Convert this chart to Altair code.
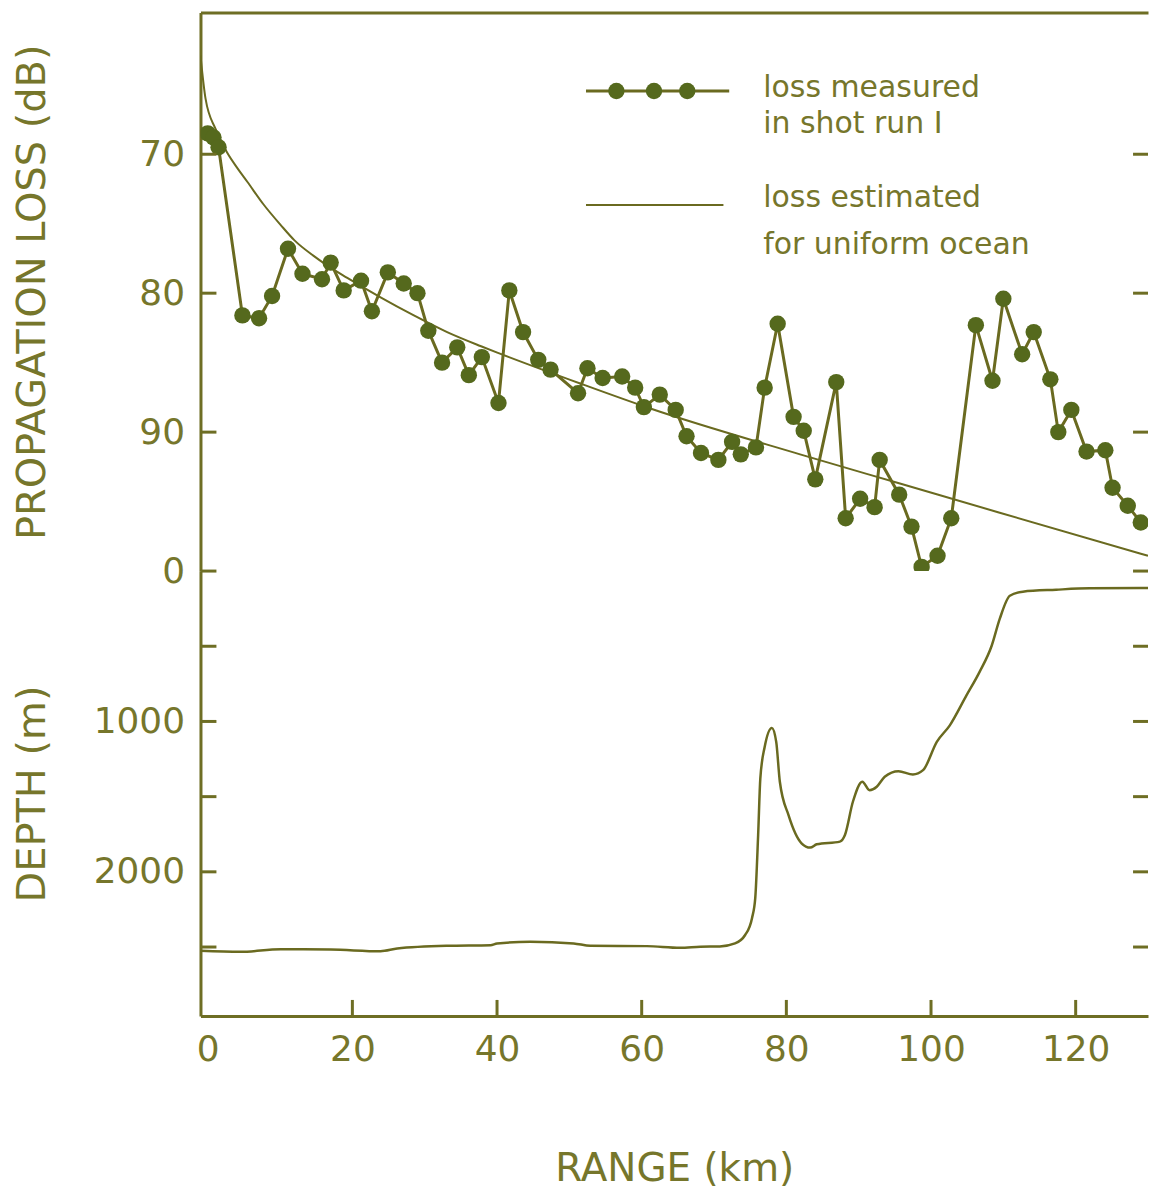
import altair as alt
import pandas as pd

# ---------------- data ----------------
# measured propagation loss, shot run I
meas_range = [0.0, 0.8, 1.5, 4.8, 7.1, 8.9, 11.1, 13.1, 15.8, 17.0, 18.8, 21.2, 22.7,
              24.9, 27.1, 29.0, 30.5, 32.4, 34.5, 36.1, 37.9, 40.2, 41.7, 43.6, 45.7,
              47.4, 51.2, 52.5, 54.6, 57.3, 59.1, 60.3, 62.5, 64.7, 66.2, 68.2, 70.6,
              72.5, 73.7, 75.8, 77.0, 78.8, 81.0, 82.4, 84.0, 86.9, 88.2, 90.2, 92.2,
              92.9, 95.6, 97.3, 98.7, 100.9, 102.8, 106.2, 108.5, 110.0, 112.6, 114.2,
              116.5, 117.6, 119.4, 121.5, 124.1, 125.1, 127.2, 129.0]
meas_loss = [68.5, 68.8, 69.5, 81.6, 81.8, 80.2, 76.8, 78.6, 79.0, 77.8, 79.8, 79.1, 81.3,
             78.5, 79.3, 80.0, 82.7, 85.0, 83.9, 85.9, 84.6, 87.9, 79.8, 82.8, 84.8,
             85.5, 87.2, 85.4, 86.1, 86.0, 86.8, 88.2, 87.3, 88.4, 90.3, 91.5, 92.0,
             90.7, 91.6, 91.1, 86.8, 82.2, 88.9, 89.9, 93.4, 86.4, 96.2, 94.8, 95.4,
             92.0, 94.5, 96.8, 99.7, 98.9, 96.2, 82.3, 86.3, 80.4, 84.4, 82.8,
             86.2, 90.0, 88.4, 91.4, 91.3, 94.0, 95.3, 96.5]

# loss estimated for a uniform ocean
est_range = [-1.0, -0.3, 1.1, 2.7, 4.1, 5.5, 7.7, 10.1, 12.0, 14.6, 16.5, 19.3, 23.9,
             28.5, 33.1, 37.7, 40.4, 51.5, 61.2, 81.9, 95.7, 109.5, 130.0]
est_loss = [62.9, 66.0, 68.2, 69.9, 71.0, 72.0, 73.6, 75.1, 76.2, 77.3, 78.0, 78.9, 80.3,
            81.6, 82.8, 83.8, 84.35, 86.5, 88.3, 91.6, 93.7, 95.8, 98.9]

# bottom depth profile
depth_range = [-1.0, 4.5, 10.1, 17.0, 23.9, 26.2, 33.1, 39.1, 40.0, 44.6, 50.6, 52.9,
               60.7, 65.3, 68.1, 70.8, 72.9, 74.3, 75.25, 75.7, 76.1, 76.4, 77.0, 78.0,
               78.6, 79.1, 80.3, 82.1, 83.3, 84.2, 87.4, 88.1, 89.2, 90.5, 91.5, 92.5,
               93.6, 95.5, 97.5, 98.9, 100.8, 102.6, 104.9, 106.7, 108.4, 109.5, 110.9,
               112.7, 117.3, 121.9, 130.0]
depth_m = [2525, 2532, 2515, 2517, 2528, 2510, 2492, 2488, 2476, 2465, 2476, 2492,
           2494, 2505, 2498, 2496, 2476, 2420, 2308, 2175, 1755, 1380, 1170, 1043,
           1136, 1401, 1623, 1810, 1839, 1817, 1799, 1755, 1534, 1401, 1457, 1434,
           1368, 1331, 1353, 1324, 1136, 1026, 827, 672, 495, 318, 164,
           137, 124, 115, 113]

# tick / label values
x_label_values = [0, 20, 40, 60, 80, 100, 120]
x_tick_values = [20, 40, 60, 80, 100, 120]
loss_tick_values = [70, 80, 90]
depth_tick_values = [0, 500, 1000, 1500, 2000, 2500]
depth_label_values = [0, 1000, 2000]

# legend (placed in data units)
legend_meas_line_range = [52.3, 72.1]
legend_meas_dot_range = [56.5, 61.7, 66.3]
legend_meas_loss = 65.45
legend_est_line_range = [52.3, 71.3]
legend_est_loss = 73.65
legend_labels = ["loss measured", "in shot run I", "loss estimated", "for uniform ocean"]
legend_label_loss = [65.2, 67.8, 73.15, 76.5]
legend_label_range = 76.8

# ---------------- styling ----------------
FONT = "DejaVu Sans"
TXT = "#76762b"
LINE = "#6a6a20"
DOT = "#55691d"
AXC = "#6e6e24"

W = 950
H_TOP = 560
H_BOT = 446

X_SCALE = alt.Scale(domain=[-1, 130], nice=False, zero=False)
Y_LOSS = alt.Scale(domain=[59.8, 100], reverse=True, nice=False, zero=False)
Y_DEPTH = alt.Scale(domain=[0, 2958], reverse=True, nice=False, zero=False)

common_axis = dict(grid=False, ticks=False, tickSize=0, domain=True, domainColor=AXC,
                   domainWidth=3, labelFont=FONT, labelColor=TXT, labelFontSize=36,
                   labelFlush=False, labelOverlap=False, titleFont=FONT, titleColor=TXT,
                   titleFontWeight="normal", format="d")

x_top = alt.X("range:Q", scale=X_SCALE,
              axis=alt.Axis(orient="top", labels=False, ticks=False, grid=False,
                            domain=True, domainColor=AXC, domainWidth=3, title=None))
y_loss = alt.Y("loss:Q", scale=Y_LOSS,
               axis=alt.Axis(orient="left", values=loss_tick_values,
                             title="PROPAGATION LOSS (dB)", labelPadding=16,
                             titleX=-168, titleBaseline="middle", titleAngle=270,
                             titleFontSize=40, **common_axis))

x_bot = alt.X("range:Q", scale=X_SCALE,
              axis=alt.Axis(orient="bottom", values=x_label_values, title="RANGE (km)",
                            labelPadding=17, titlePadding=82, titleFontSize=39,
                            **common_axis))
y_depth = alt.Y("depth:Q", scale=Y_DEPTH,
                axis=alt.Axis(orient="left", values=depth_label_values,
                              title="DEPTH (m)", labelPadding=16,
                              titleX=-168, titleBaseline="middle", titleAngle=270,
                              titleFontSize=40, **common_axis))

# ---------------- upper panel ----------------
meas_df = pd.DataFrame({"range": meas_range, "loss": meas_loss})
est_df = pd.DataFrame({"range": est_range, "loss": est_loss})

est_line = alt.Chart(est_df).mark_line(color=LINE, strokeWidth=2, interpolate="monotone",
                                       clip=True).encode(x=x_top, y=y_loss)
meas_line = alt.Chart(meas_df).mark_line(color=LINE, strokeWidth=3, clip=True).encode(
    x=x_top, y=y_loss)
meas_pts = alt.Chart(meas_df).mark_circle(color=DOT, size=270, opacity=1, clip=True).encode(
    x=x_top, y=y_loss)

leg_meas_line = alt.Chart(pd.DataFrame({
    "range": legend_meas_line_range,
    "loss": [legend_meas_loss] * len(legend_meas_line_range)})).mark_line(
    color=LINE, strokeWidth=3).encode(x=x_top, y=y_loss)
leg_meas_dots = alt.Chart(pd.DataFrame({
    "range": legend_meas_dot_range,
    "loss": [legend_meas_loss] * len(legend_meas_dot_range)})).mark_circle(
    color=DOT, size=270, opacity=1).encode(x=x_top, y=y_loss)
leg_est_line = alt.Chart(pd.DataFrame({
    "range": legend_est_line_range,
    "loss": [legend_est_loss] * len(legend_est_line_range)})).mark_line(
    color=LINE, strokeWidth=2).encode(x=x_top, y=y_loss)
leg_text = alt.Chart(pd.DataFrame({
    "range": [legend_label_range] * len(legend_labels),
    "loss": legend_label_loss,
    "label": legend_labels})).mark_text(
    align="left", baseline="middle", font=FONT, fontSize=30, color=TXT).encode(
    x=x_top, y=y_loss, text="label:N")

loss_ticks_df = pd.DataFrame({"loss": loss_tick_values})
left_ticks_top = alt.Chart(loss_ticks_df).mark_rule(color=AXC, strokeWidth=3).encode(
    y=y_loss, x=alt.value(0), x2=alt.value(16))
right_ticks_top = alt.Chart(loss_ticks_df).mark_rule(color=AXC, strokeWidth=3).encode(
    y=y_loss, x=alt.value(W - 15), x2=alt.value(W))

upper = alt.layer(est_line, meas_line, meas_pts, leg_meas_line, leg_meas_dots,
                  leg_est_line, leg_text, left_ticks_top, right_ticks_top).properties(
    width=W, height=H_TOP)

# ---------------- lower panel ----------------
depth_df = pd.DataFrame({"range": depth_range, "depth": depth_m})
depth_line = alt.Chart(depth_df).mark_line(color=LINE, strokeWidth=2.5,
                                           interpolate="monotone", clip=True).encode(
    x=x_bot, y=y_depth)

depth_ticks_df = pd.DataFrame({"depth": depth_tick_values})
left_ticks_bot = alt.Chart(depth_ticks_df).mark_rule(color=AXC, strokeWidth=3).encode(
    y=y_depth, x=alt.value(0), x2=alt.value(16))
right_ticks_bot = alt.Chart(depth_ticks_df).mark_rule(color=AXC, strokeWidth=3).encode(
    y=y_depth, x=alt.value(W - 15), x2=alt.value(W))
x_ticks_df = pd.DataFrame({"range": x_tick_values})
bottom_ticks = alt.Chart(x_ticks_df).mark_rule(color=AXC, strokeWidth=3).encode(
    x=x_bot, y=alt.value(H_BOT - 16), y2=alt.value(H_BOT))

lower = alt.layer(depth_line, left_ticks_bot, right_ticks_bot, bottom_ticks).properties(
    width=W, height=H_BOT)

chart = alt.vconcat(upper, lower, spacing=0, bounds="flush").properties(
    padding={"left": 13, "top": 11, "right": 0, "bottom": 0},
    background="white",
).configure_view(stroke=None)

chart.save("out.html", embed_options={"renderer": "svg", "actions": False})
